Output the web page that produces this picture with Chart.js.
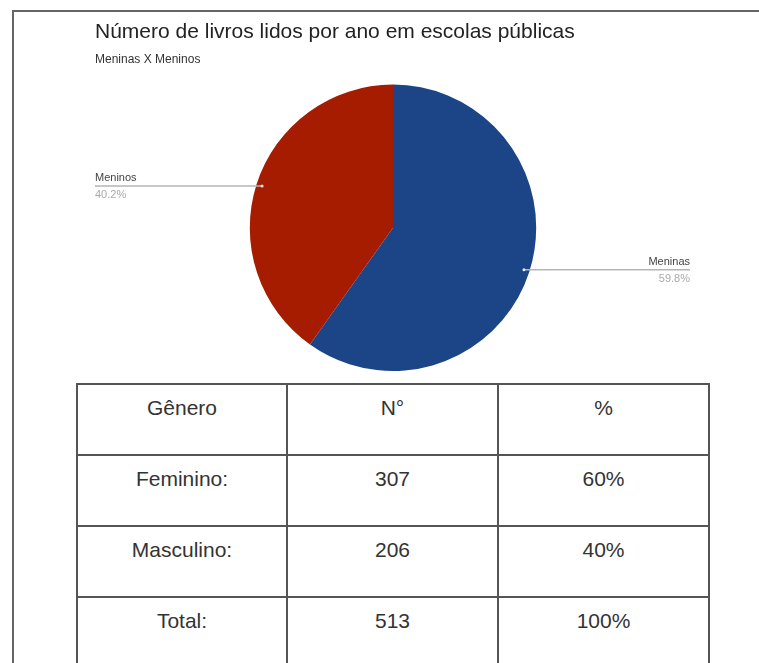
<!DOCTYPE html>
<html>
<head>
<meta charset="utf-8">
<script src="https://cdn.jsdelivr.net/npm/chart.js@4"></script>
<style>
  html, body { margin: 0; padding: 0; background: #fff; width: 759px; height: 663px; overflow: hidden; }
  #frame { position: absolute; left: 12px; top: 10px; width: 800px; height: 700px; border: 2px solid #666; box-sizing: border-box; }
  #chartBox { position: absolute; left: 0; top: 0; width: 759px; height: 380px; }
  #tabela { position: absolute; left: 76px; top: 383px; border-collapse: collapse; table-layout: fixed; width: 632px; font-family: "Liberation Sans", Arial, sans-serif; font-size: 21px; color: #333; }
  #tabela td { border: 2px solid #555; height: 71px; text-align: center; vertical-align: top; padding: 11px 0 0 0; box-sizing: border-box; line-height: 24px; }
</style>
</head>
<body>
<div id="frame"></div>
<div id="chartBox"><canvas id="myChart"></canvas></div>
<table id="tabela">
  <colgroup><col style="width:210px"><col style="width:211px"><col style="width:211px"></colgroup>
</table>
<script>
const categories = ['Meninas', 'Meninos'];
const counts = [307, 206];
const colors = ['#1c4587', '#a61c00'];

const headers = ['Gênero', 'N°', '%'];
const generos = ['Feminino:', 'Masculino:', 'Total:'];
const numeros = [307, 206, 513];
const percents = ['60%', '40%', '100%'];

// table under the chart
let tabela = document.getElementById('tabela');
let rows = [headers];
generos.forEach((g, i) => rows.push([g, numeros[i], percents[i]]));
rows.forEach(r => {
  let tr = document.createElement('tr');
  r.forEach(c => {
    let td = document.createElement('td');
    td.textContent = c;
    tr.appendChild(td);
  });
  tabela.appendChild(tr);
});

// labels with leader lines, like google sheets
const sideLabels = {
  id: 'sideLabels',
  afterDatasetsDraw(chart) {
    const ctx = chart.ctx;
    const area = chart.chartArea;
    const data = chart.data.datasets[0].data;
    const total = data.reduce((a, b) => a + b, 0);
    chart.getDatasetMeta(0).data.forEach((arc, i) => {
      const p = arc.getProps(['x', 'y', 'startAngle', 'endAngle', 'outerRadius'], true);
      const mid = (p.startAngle + p.endAngle) / 2;
      const px = p.x + Math.cos(mid) * p.outerRadius * 0.96;
      const py = p.y + Math.sin(mid) * p.outerRadius * 0.96;
      const right = Math.cos(mid) > 0;
      const ex = right ? area.right - 1 : area.left;
      ctx.save();
      ctx.strokeStyle = '#b5b5b5';
      ctx.lineWidth = 1.5;
      ctx.beginPath();
      ctx.moveTo(px, py);
      ctx.lineTo(ex, py);
      ctx.stroke();
      ctx.fillStyle = '#e8e8e8';
      ctx.beginPath();
      ctx.arc(px, py, 1.5, 0, Math.PI * 2);
      ctx.fill();
      ctx.font = '11px "Liberation Sans", Arial, sans-serif';
      ctx.textAlign = right ? 'right' : 'left';
      ctx.textBaseline = 'middle';
      ctx.fillStyle = '#444';
      ctx.fillText(chart.data.labels[i], ex, py - 8);
      ctx.fillStyle = '#aaa';
      ctx.fillText((data[i] / total * 100).toFixed(1) + '%', ex, py + 9);
      ctx.restore();
    });
  }
};

const ctx = document.getElementById('myChart');

new Chart(ctx, {
  type: 'pie',
  data: {
    labels: categories,
    datasets: [{
      data: counts,
      backgroundColor: colors,
      borderWidth: 0
    }]
  },
  options: {
    responsive: true,
    maintainAspectRatio: false,
    animation: false,
    layout: {
      padding: { left: 95, right: 68, top: 0, bottom: 9 }
    },
    plugins: {
      legend: { display: false },
      tooltip: { enabled: false },
      title: {
        display: true,
        text: 'Número de livros lidos por ano em escolas públicas',
        align: 'start',
        color: '#222',
        font: { family: '"Liberation Sans", Arial, sans-serif', size: 21, weight: 'normal' },
        padding: { top: 20, bottom: 0 }
      },
      subtitle: {
        display: true,
        text: 'Meninas X Meninos',
        align: 'start',
        color: '#333',
        font: { family: '"Liberation Sans", Arial, sans-serif', size: 12 },
        padding: { top: 7, bottom: 18 }
      }
    }
  },
  plugins: [sideLabels]
});
</script>
</body>
</html>
